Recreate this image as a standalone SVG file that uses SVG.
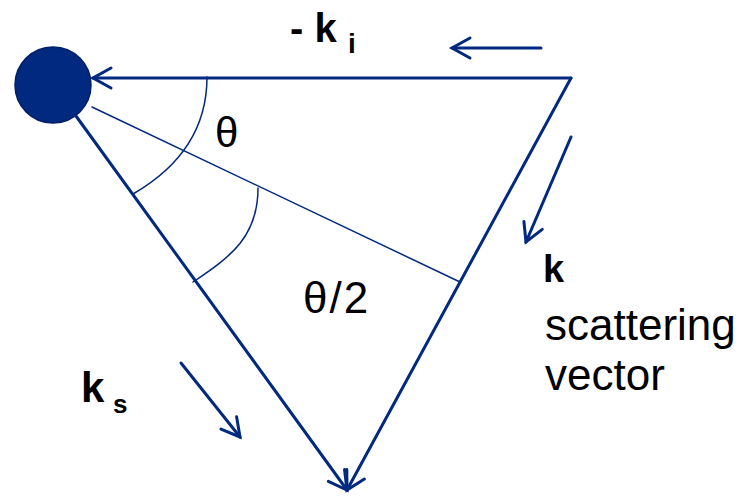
<svg xmlns="http://www.w3.org/2000/svg" width="743" height="496" viewBox="0 0 743 496">
<style>
.ln{stroke:#00297F;fill:none;stroke-linecap:round}
.thick{stroke-width:3}
.thin{stroke-width:1.5}
.t{font-family:"Liberation Sans",Arial,sans-serif;fill:#000}
.b{font-weight:bold}
</style>
<defs>
<marker id="ah" markerUnits="userSpaceOnUse" markerWidth="30" markerHeight="30" viewBox="-22 -15 26 30" refX="0" refY="0" orient="auto">
<path d="M-18,-10 L0,0 L-18,10" fill="none" stroke="#00297F" stroke-width="3" stroke-linecap="round" stroke-linejoin="miter"/>
</marker>
</defs>
<rect width="743" height="496" fill="#fff"/>
<g id="particle">
<circle cx="53" cy="85" r="38" fill="#00297F" stroke="#001F66" stroke-width="1.5"/>
</g>
<g id="connectors">
<line class="ln thick" x1="571" y1="78" x2="93" y2="78" marker-end="url(#ah)"/>
<line class="ln thick" x1="571" y1="78" x2="347" y2="490" marker-end="url(#ah)"/>
<line class="ln thick" x1="76" y1="116" x2="347" y2="490" marker-end="url(#ah)"/>
<line class="ln thin" x1="92" y1="107" x2="460" y2="282"/>
<path class="ln thin" d="M207,77 C207,130 178,168 133,194"/>
<path class="ln thin" d="M258,188 C258,236 232,256 193,282"/>
<line class="ln thick" x1="541" y1="48" x2="452" y2="48" marker-end="url(#ah)"/>
<line class="ln thick" x1="571" y1="137" x2="526" y2="242" marker-end="url(#ah)"/>
<line class="ln thick" x1="181" y1="363" x2="240" y2="437" marker-end="url(#ah)"/>
</g>
<g id="labels">
<text class="t b" x="290" y="42" font-size="40">- k</text>
<text class="t b" x="348" y="53" font-size="28">i</text>
<text class="t" x="215" y="147" font-size="42">θ</text>
<text class="t" x="303" y="313" font-size="44" letter-spacing="2">θ/2</text>
<text class="t b" x="81" y="402" font-size="42">k</text>
<text class="t b" x="113" y="413" font-size="26">s</text>
<text class="t b" x="543" y="282" font-size="38">k</text>
<text class="t" x="545" y="340" font-size="44">scattering</text>
<text class="t" x="545" y="390" font-size="44">vector</text>
</g>
</svg>
